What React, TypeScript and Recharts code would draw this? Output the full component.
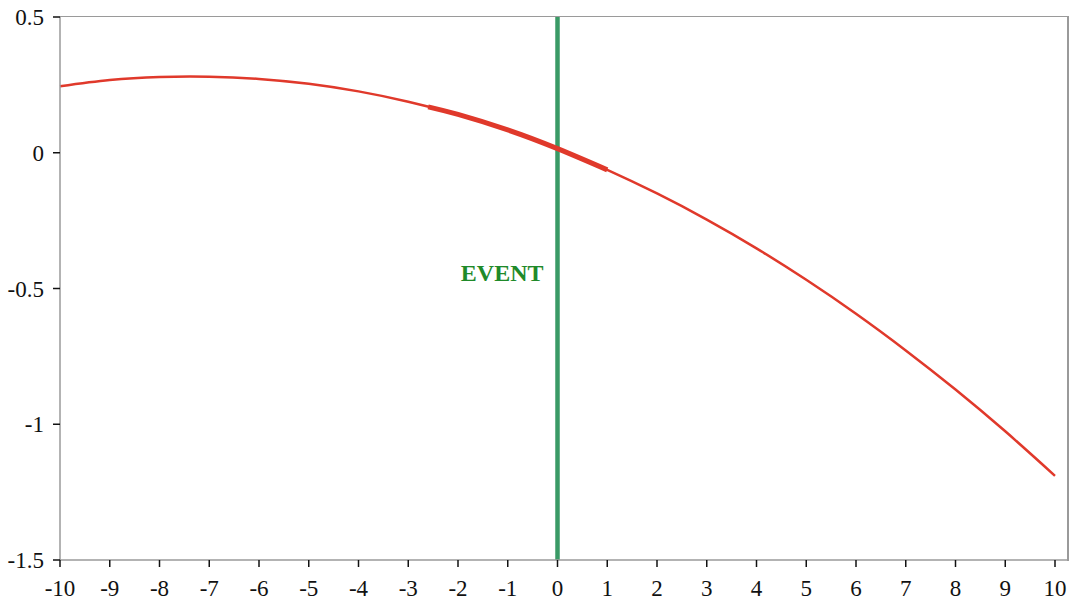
import { LineChart, Line, XAxis, YAxis, ReferenceLine, Label } from "recharts";

const xs = [-10, -9, -8, -7, -6, -5, -4, -3, -2, -1, 0, 1, 2, 3, 4, 5, 6, 7, 8, 9, 10];
const curve = [
  0.245, 0.268, 0.279, 0.28, 0.272, 0.254, 0.226, 0.188, 0.141, 0.084, 0.015,
  -0.063, -0.15, -0.246, -0.352, -0.468, -0.593, -0.728, -0.872, -1.026, -1.19,
];
const windowXs = [-2.6, -2, -1, 0, 1];
const windowVals = [0.169, 0.141, 0.084, 0.015, -0.063];
const xTicks = xs;
const yTicks = [-1.5, -1, -0.5, 0, 0.5];
const eventX = 0;

const curveData = xs.map((x, i) => ({ x, y: curve[i] }));
const windowData = windowXs.map((x, i) => ({ x, y: windowVals[i] }));

const font = "'Liberation Serif', 'Times New Roman', serif";
const axisGray = "#9a9a9a";
const red = "#e0392b";
const green = "#3a9a66";

const tickStyle = { fill: "#111", fontSize: 23, fontFamily: font };

export default function App() {
  return (
    <div style={{ position: "absolute", left: 0, top: 0, width: 1072, height: 603, background: "#fff", fontFamily: font }}>
      {/* top and right frame edges */}
      <div style={{ position: "absolute", left: 60, top: 16, width: 1008, height: 0, borderTop: `1.5px solid ${axisGray}` }} />
      <div style={{ position: "absolute", left: 1067, top: 16, width: 0, height: 545, borderLeft: `2.5px solid ${axisGray}` }} />
      <LineChart
        width={1072}
        height={603}
        margin={{ top: 17, right: 4, left: 0, bottom: 0 }}
        style={{ fontFamily: font }}
      >
        <XAxis
          dataKey="x"
          type="number"
          domain={[-10, 10]}
          ticks={xTicks}
          interval={0}
          allowDuplicatedCategory={false}
          padding={{ left: 0, right: 13 }}
          height={43}
          fontSize={23}
          fontFamily={font}
          tick={tickStyle}
          tickSize={7}
          tickMargin={13}
          axisLine={{ stroke: axisGray, strokeWidth: 1.5 }}
          tickLine={{ stroke: "#111", strokeWidth: 1.5 }}
        />
        <YAxis
          type="number"
          domain={[-1.5, 0.5]}
          ticks={yTicks}
          interval={0}
          width={60}
          fontSize={23}
          fontFamily={font}
          tick={tickStyle}
          tickSize={7}
          tickMargin={9}
          axisLine={{ stroke: axisGray, strokeWidth: 1.5 }}
          tickLine={{ stroke: "#111", strokeWidth: 1.5 }}
        />
        <ReferenceLine x={eventX} stroke={green} strokeWidth={4.5}>
          <Label
            value="EVENT"
            position="left"
            offset={14}
            dy={-16}
            fill="#1f8a2a"
            fontSize={24}
            fontWeight="bold"
            fontFamily={font}
          />
        </ReferenceLine>
        <Line
          data={curveData}
          dataKey="y"
          type="natural"
          stroke={red}
          strokeWidth={2.5}
          dot={false}
          isAnimationActive={false}
        />
        <Line
          data={windowData}
          dataKey="y"
          type="natural"
          stroke={red}
          strokeWidth={5}
          dot={false}
          isAnimationActive={false}
        />
      </LineChart>
    </div>
  );
}
